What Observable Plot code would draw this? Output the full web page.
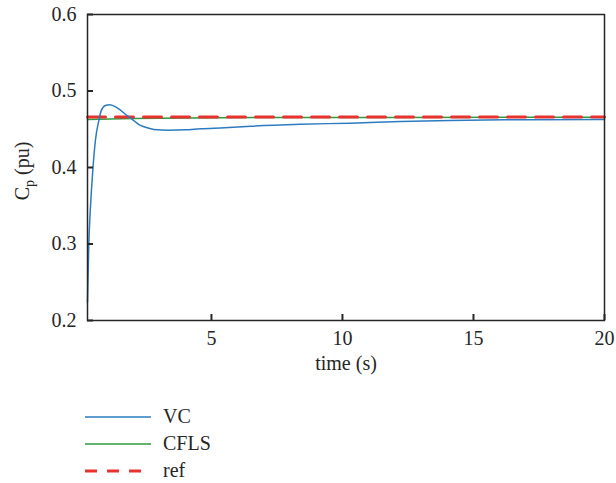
<!DOCTYPE html>
<html><head><meta charset="utf-8">
<script src="https://cdn.jsdelivr.net/npm/d3@7"></script>
<script src="https://cdn.jsdelivr.net/npm/@observablehq/plot@0.6"></script>
<style>
body{margin:0;background:#fff;font-family:"Liberation Serif","DejaVu Serif",serif;}
#chart svg{display:block;}
#chart svg text{font-family:"Liberation Serif","DejaVu Serif",serif;}
#legend{margin-left:85px;margin-top:18px;font-size:20px;color:#262626;}
#legend .row{display:flex;align-items:center;height:27px;}
#legend svg{margin-right:12px;}
</style></head><body>
<div id="chart"></div>
<div id="legend"></div>
<script>
// ---- data ----
const vcTime = [0.27, 0.32, 0.37, 0.42, 0.48, 0.57, 0.70, 0.79, 0.95, 1.12, 1.40, 1.78, 2.05, 2.29, 2.55, 2.80, 3.36, 4.0, 4.58, 5.5, 6.5, 8.4, 10.3, 12.2, 14.1, 17, 20];
const vcValues = [0.224, 0.30, 0.34, 0.37, 0.40, 0.435, 0.461, 0.474, 0.481, 0.482, 0.478, 0.468, 0.461, 0.455, 0.452, 0.4497, 0.4488, 0.4492, 0.4506, 0.452, 0.454, 0.4565, 0.458, 0.460, 0.4615, 0.4625, 0.4628];
const cflsTime = [0.27, 2, 4, 7, 12, 20];
const cflsValues = [0.4627, 0.4640, 0.4648, 0.4653, 0.4655, 0.4656];
const refTime = [0.27, 20];
const refValues = [0.4660, 0.4660];
const xTicks = [5, 10, 15, 20];
const yTicks = [0.2, 0.3, 0.4, 0.5, 0.6];
const seriesNames = ["VC", "CFLS", "ref"];

// ---- styles / layout ----
const colors = {VC: "#2c7bc0", CFLS: "#2e9a3f", ref: "#e8322e"};
const ink = "#262626";
const W = 616, H = 385, mL = 87, mR = 12, mT = 14, mB = 65;
const tickLen = 6;
const plotW = W - mL - mR, plotH = H - mT - mB;

const vc = vcTime.map((t, i) => ({t, v: vcValues[i]}));
const cfls = cflsTime.map((t, i) => ({t, v: cflsValues[i]}));
const ref = refTime.map((t, i) => ({t, v: refValues[i]}));

const chart = Plot.plot({
  width: W,
  height: H,
  marginLeft: mL,
  marginRight: mR,
  marginTop: mT,
  marginBottom: mB,
  style: {fontSize: "20px", color: ink, background: "#fff"},
  x: {domain: [0.27, 20]},
  y: {domain: [0.2, 0.6]},
  marks: [
    Plot.line(cfls, {x: "t", y: "v", stroke: colors.CFLS, strokeWidth: 1.5}),
    Plot.line(ref, {x: "t", y: "v", stroke: colors.ref, strokeWidth: 3, strokeDasharray: "18 10"}),
    Plot.line(vc, {x: "t", y: "v", stroke: colors.VC, strokeWidth: 1.5, curve: "monotone-x"}),
    Plot.frame({stroke: ink, strokeWidth: 1.5}),
    // inward ticks (bottom and left)
    Plot.ruleX(xTicks, {x: d => d, y1: 0.2, y2: 0.2 + 0.4 * tickLen / plotH, stroke: ink, strokeWidth: 2}),
    Plot.ruleY(yTicks, {y: d => d, x1: 0.27, x2: 0.27 + 19.73 * tickLen / plotW, stroke: ink, strokeWidth: 2}),
    Plot.axisX(xTicks, {tickSize: 0, tickPadding: 10, label: null, fontSize: 20, fill: ink}),
    Plot.axisY(yTicks, {tickSize: 0, tickPadding: 11, label: null, fontSize: 20, fill: ink, tickFormat: d => d.toFixed(1)}),
    Plot.text(["time (s)"], {frameAnchor: "bottom", dy: 49, fontSize: 20, fill: ink})
  ]
});
document.getElementById("chart").appendChild(chart);

// y-axis label with subscript
const svg = d3.select(chart);
const yc = mT + plotH / 2 + 4;
const lbl = svg.append("text")
  .attr("transform", `translate(29,${yc}) rotate(-90)`)
  .attr("text-anchor", "middle")
  .attr("font-size", 20)
  .attr("fill", ink);
lbl.append("tspan").text("C");
lbl.append("tspan").attr("font-size", 14).attr("dy", 5).text("p");
lbl.append("tspan").attr("dy", -5).text(" (pu)");

// legend
const leg = d3.select("#legend");
const dashes = {VC: null, CFLS: null, ref: "12 10"};
const widths = {VC: 1.5, CFLS: 1.5, ref: 3};
seriesNames.forEach(n => {
  const row = leg.append("div").attr("class", "row");
  const s = row.append("svg").attr("width", 66).attr("height", 10);
  s.append("line").attr("x1", 0).attr("x2", 66).attr("y1", 5).attr("y2", 5)
    .attr("stroke", colors[n]).attr("stroke-width", widths[n]).attr("stroke-dasharray", dashes[n]);
  row.append("span").text(n);
});
</script>
</body></html>
